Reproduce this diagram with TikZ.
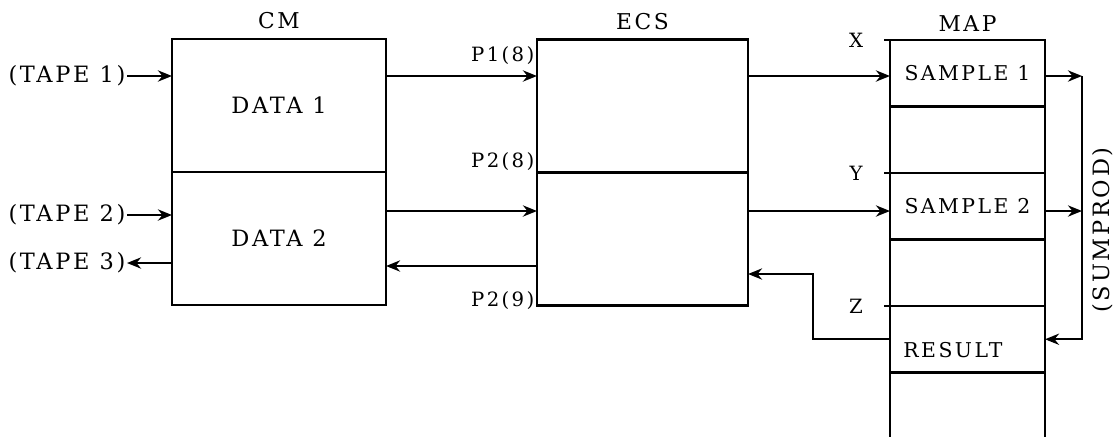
\documentclass[tikz,border=0pt]{standalone}
\usepackage{fontspec}
\setmainfont{DejaVu Serif}[LetterSpace=12]
\usetikzlibrary{arrows.meta,positioning}
\newcommand{\bigfnt}{\fontsize{16}{19}\selectfont}
\newcommand{\midfnt}{\fontsize{14.5}{17}\selectfont}
\newcommand{\smallfnt}{\fontsize{14}{17}\selectfont}

\tikzset{
  blk/.style={draw,line width=1.7pt,inner sep=0pt,outer sep=0pt,font=\bigfnt},
  cmbox/.style={blk,minimum width=5.35cm,minimum height=3.325cm},
  ecsbox/.style={blk,minimum width=5.275cm,minimum height=3.325cm},
  slot/.style={blk,font=\midfnt,minimum width=3.875cm,minimum height=1.6625cm},
  lbl/.style={inner sep=1pt,font=\bigfnt},
  tag/.style={inner sep=1pt,font=\smallfnt},
  title/.style={inner sep=1pt,font=\fontsize{15.5}{18}\selectfont},
  flow/.style={line width=1.5pt,-{Stealth[length=10pt,width=8pt]}},
  wire/.style={line width=1.7pt}
}

\begin{document}
\begin{tikzpicture}[x=0.025cm,y=-0.025cm]
\useasboundingbox (0,0) rectangle (1115,436);
% rows of the arrows
\coordinate (r1) at (0,76);
\coordinate (r2) at (0,211);
\coordinate (r3) at (0,266);
\coordinate (r4) at (0,274);
% CM
\node[cmbox] (data1) at (279,105.5) {DATA 1};
\node[cmbox,below=0pt of data1] (data2) {DATA 2};
\node[title,above=6pt of data1] (cm) {CM};
\node[lbl,anchor=east] (tape1) at (127,76) {(TAPE 1)};
\node[lbl,anchor=east] (tape2) at (127,215) {(TAPE 2)};
\node[lbl,anchor=east] (tape3) at (127,263) {(TAPE 3)};
\draw[flow] (tape1.east) -- (tape1.east -| data1.west);
\draw[flow] (tape2.east) -- (tape2.east -| data2.west);
\draw[flow] (tape3.east -| data2.west) -- (tape3.east);
% ECS
\node[ecsbox] (ecs1) at (642.5,106) {};
\node[ecsbox,below=0pt of ecs1] (ecs2) {};
\node[title,above=6pt of ecs1] (ecs) {ECS};
\node[tag,anchor=east] (p18) at (536,56) {P1(8)};
\node[tag,anchor=east] (p28) at (536,162) {P2(8)};
\node[tag,anchor=east] (p29) at (536,301) {P2(9)};
\draw[flow] (data1.east |- r1) -- (ecs1.west |- r1);
\draw[flow] (data2.east |- r2) -- (ecs2.west |- r2);
\draw[flow] (ecs2.west |- r3) -- (data2.east |- r3);
% MAP
\foreach \i/\t in {1/{SAMPLE 1},2/{},3/{SAMPLE 2},4/{},5/{}}
  \node[slot] (m\i) at (967.5,{40+66.5*(\i-0.5)}) {\t};
\draw[wire] (m5.south west) -- ++(0,64) (m5.south east) -- ++(0,64);
\node[title,above=5pt of m1] (map) {MAP};
\node[lbl,font=\midfnt] (res) at (953,350) {RESULT};
\foreach \i/\t in {1/X,3/Y,5/Z} {
  \draw[wire] (m\i.north west) -- ++(-6,0);
  \node[tag] (tag\t) at (856,{40+66.5*(\i-1)}) {\t};
}
\draw[flow] (ecs1.east |- r1) -- (m1.west |- r1);
\draw[flow] (ecs2.east |- r2) -- (m3.west |- r2);
\draw[flow] (m5.west) -- ++(-77,0) |- (ecs2.east |- r4);
% SUMPROD loop
\coordinate (sp) at (1082,76);
\draw[flow] (m1.east |- sp) -- (sp);
\draw[flow] (m3.east |- r2) -- (sp |- r2);
\draw[flow] (sp) -- (sp |- m5.east) -- (m5.east);
\node[lbl,rotate=90] (sumprod) at (1103,230) {(SUMPROD)};
\end{tikzpicture}
\end{document}
